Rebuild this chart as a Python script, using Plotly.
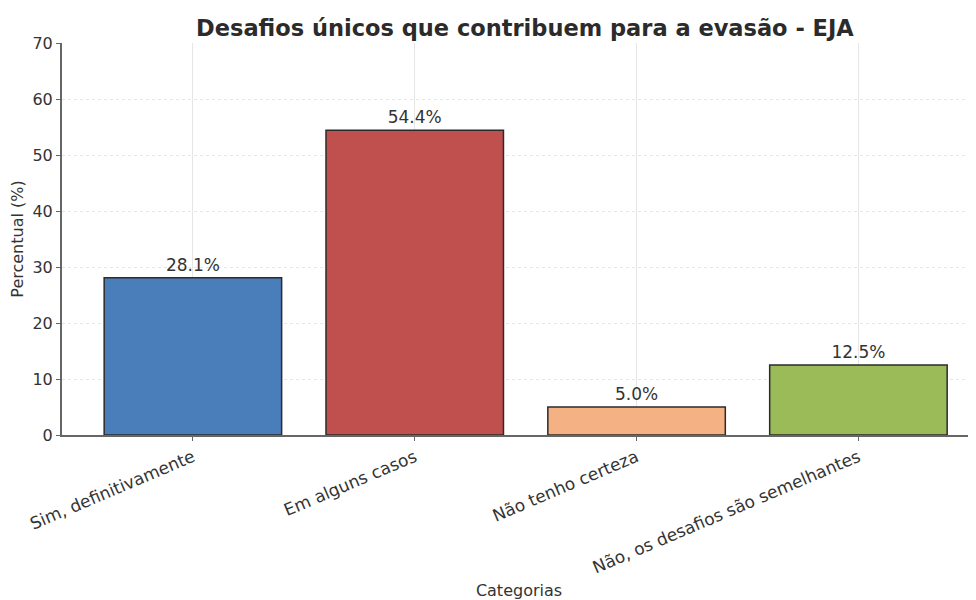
import plotly.graph_objects as go

categories = ["Sim, definitivamente", "Em alguns casos", "Não tenho certeza", "Não, os desafios são semelhantes"]
values = [28.1, 54.4, 5.0, 12.5]
colors = ["#4a7ebb", "#c0504d", "#f4b183", "#9bbb59"]
labels = [f"{v:.1f}%" for v in values]

FS = 16

fig = go.Figure()
fig.add_trace(go.Bar(
    x=list(range(len(categories))), y=values,
    marker=dict(color=colors, line=dict(color="#2b2b2b", width=1.5)),
    width=0.8,
    text=labels, textposition="outside", cliponaxis=False,
    textfont=dict(family="DejaVu Sans", size=17, color="#333333"),
))

fig.update_layout(
    width=968, height=592,
    margin=dict(l=54, r=0, t=35, b=165),
    paper_bgcolor="white", plot_bgcolor="white",
    showlegend=False,
    title=dict(text="<b>Desafios únicos que contribuem para a evasão - EJA</b>",
               x=0.534, xanchor="center", y=0.966, yanchor="middle",
               font=dict(family="DejaVu Sans", size=22.5, color="#2b2b2b")),
    font=dict(family="DejaVu Sans", color="#333333"),
)
fig.update_xaxes(
    tickmode="array", tickvals=list(range(len(categories))), ticktext=categories,
    tickangle=-23, range=[-0.59, 3.53], automargin=False,
    showgrid=True, gridcolor="#e6e6e6", gridwidth=1,
    showline=True, linecolor="#666666", linewidth=2,
    ticks="outside", ticklen=4, tickcolor="#666666",
    tickfont=dict(size=17, color="#333333"),
    title=dict(text="Categorias", font=dict(size=FS, color="#333333")),
)
fig.update_yaxes(
    range=[0, 70], dtick=10, automargin=False,
    showgrid=True, gridcolor="#e6e6e6", gridwidth=1, griddash="dot",
    showline=True, linecolor="#666666", linewidth=2,
    ticks="outside", ticklen=4, tickcolor="#666666",
    tickfont=dict(size=FS, color="#333333"),
    zeroline=False,
    title=dict(text="Percentual (%)", font=dict(size=FS, color="#333333")),
)

fig.write_html("out.html")
